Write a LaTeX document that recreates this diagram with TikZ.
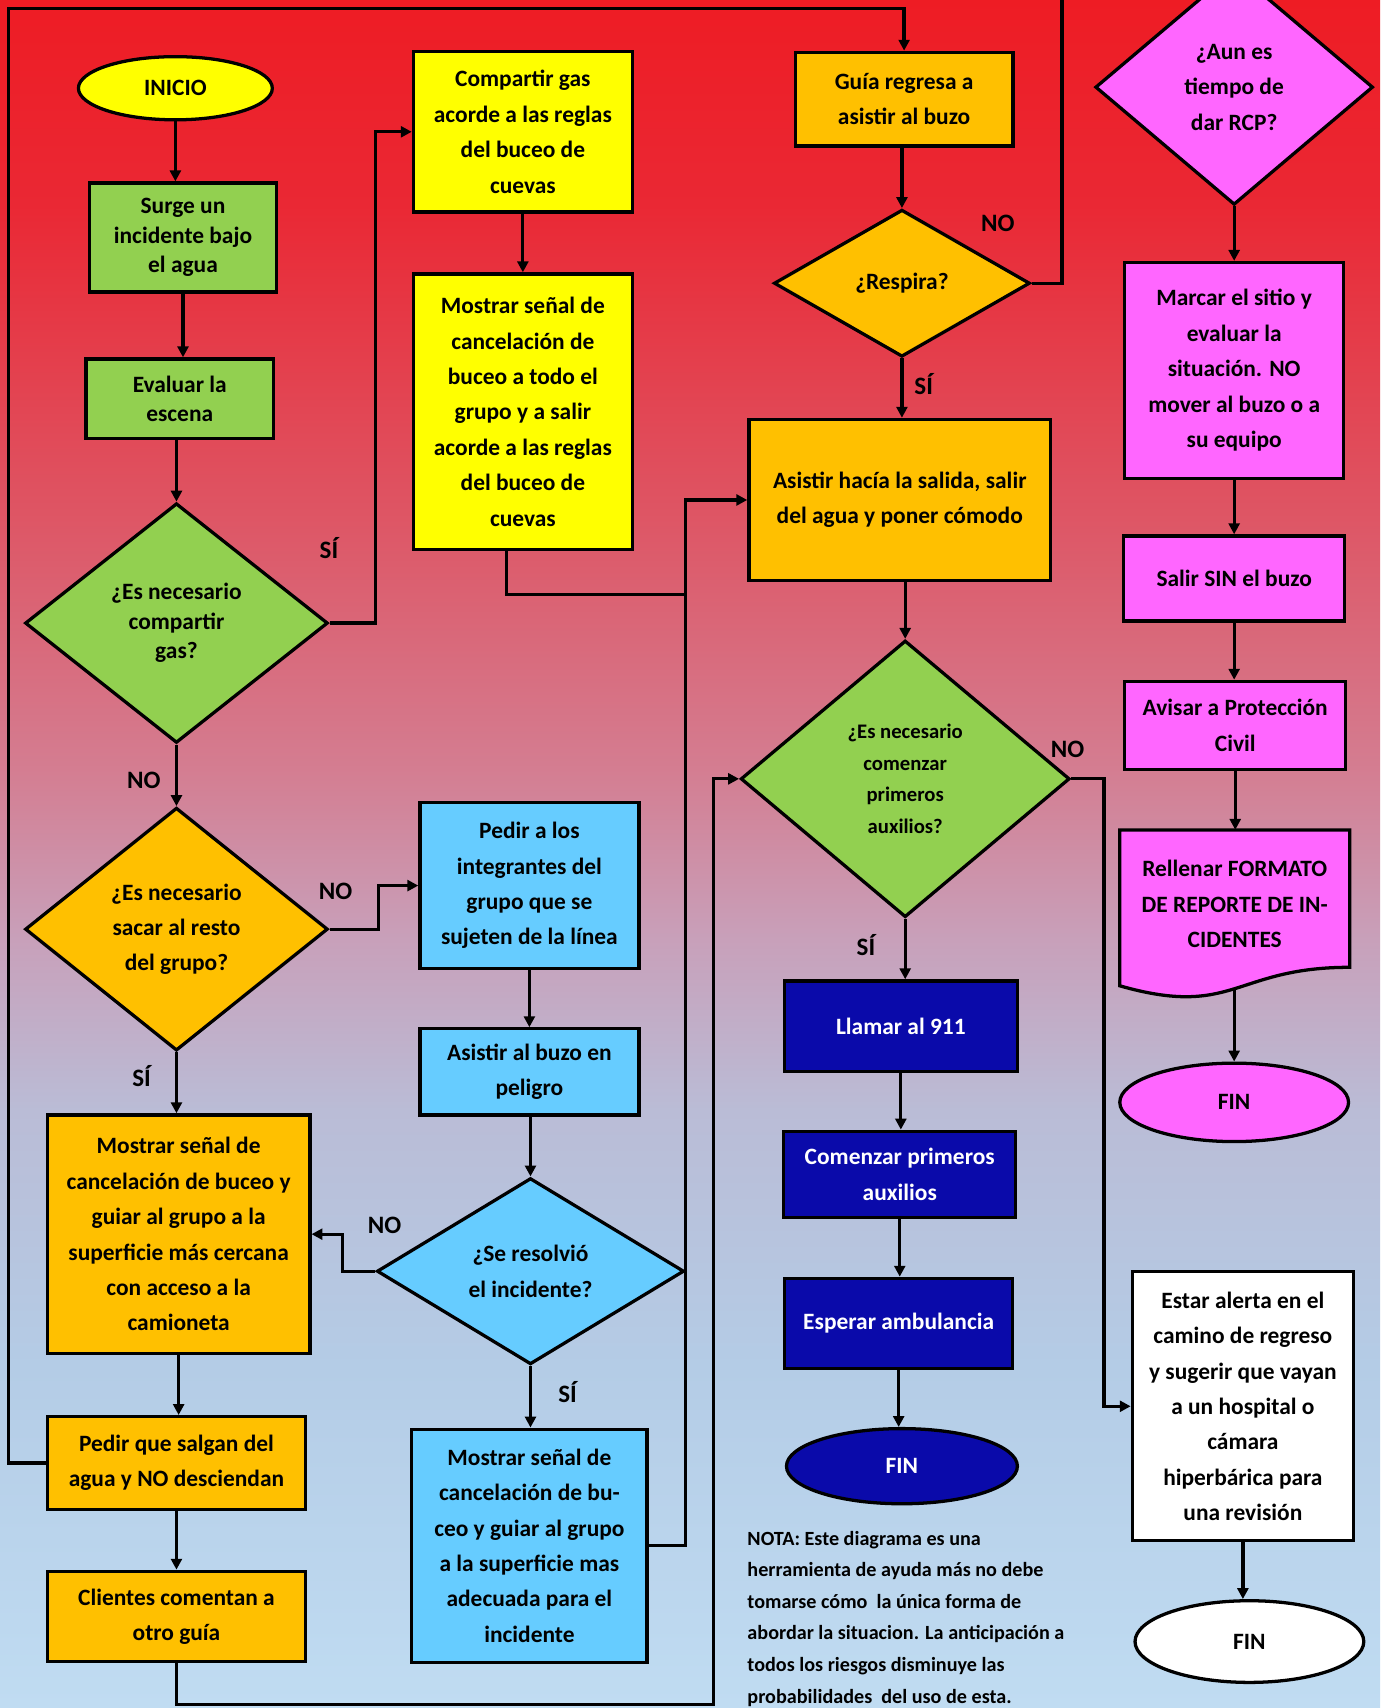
\documentclass[tikz,border=0pt]{standalone}
\usepackage{fontspec}
\setmainfont{Carlito}
\usetikzlibrary{shapes.geometric,arrows.meta,calc}
\definecolor{cyel}{RGB}{255,255,0}
\definecolor{cgrn}{RGB}{146,208,80}
\definecolor{corg}{RGB}{255,192,0}
\definecolor{clbl}{RGB}{102,204,255}
\definecolor{cdbl}{RGB}{10,10,170}
\definecolor{cpnk}{RGB}{255,102,255}
\definecolor{bg0}{RGB}{238,28,36}
\definecolor{bg1}{RGB}{234,40,52}
\definecolor{bg2}{RGB}{222,85,100}
\definecolor{bg3}{RGB}{212,125,145}
\definecolor{bg4}{RGB}{200,160,186}
\definecolor{bg5}{RGB}{186,188,214}
\definecolor{bg6}{RGB}{180,204,230}
\definecolor{bg7}{RGB}{192,220,242}
\pgfdeclareverticalshading{bgshade}{100bp}{color(0bp)=(bg7); color(25bp)=(bg7); color(35bp)=(bg6); color(42.5bp)=(bg5); color(47.5bp)=(bg4); color(52.5bp)=(bg3); color(60bp)=(bg2); color(69bp)=(bg1); color(75bp)=(bg0); color(100bp)=(bg0)}
\newcommand\myfA{\fontsize{21.5}{32.5}\selectfont\bfseries}
\newcommand\myfG{\fontsize{21.5}{27}\selectfont\bfseries}
\newcommand\myfC{\fontsize{19}{29}\selectfont\bfseries}
\newcommand\myfL{\fontsize{23}{26}\selectfont\bfseries}
\newcommand\myfN{\fontsize{18.5}{29}\selectfont\bfseries}
\begin{document}
\begin{tikzpicture}[x=1pt,y=-1pt,
  base/.style={draw=black,line width=3pt,inner sep=0pt,align=center,font=\myfA,text=black},
  box/.style={base,rectangle},
  dia/.style={base,diamond},
  term/.style={base,ellipse},
  wh/.style 2 args={minimum width=#1pt,minimum height=#2pt},
  conn/.style={line width=3pt,-{Triangle[length=10pt,width=10pt]}},
  wire/.style={line width=3pt},
  lbl/.style={font=\myfL,inner sep=0pt,text=black}]
\path[use as bounding box] (0,0) rectangle (1267,1568);
\clip (0,0) rectangle (1267,1568);
\shade[shading=bgshade] (0,0) rectangle (1267,1568);
% helper coordinates
\coordinate (tl) at (8,8);
\coordinate (bl) at (655,1565);
\coordinate (tr) at (975,-10);
\coordinate (bus1) at (628,546);
% left column
\node[term,fill=cyel,wh={178}{58}] (inicio) at (161,81) {INICIO};
\node[box,fill=cgrn,wh={172}{100},font=\myfG] (surge) at (168,218) {Surge un\\incidente bajo\\el agua};
\node[box,fill=cgrn,wh={172}{73},font=\myfG] (evalua) at (165,366) {Evaluar la\\escena};
\node[dia,fill=cgrn,wh={278}{220},font=\myfG] (dgas) at (162,572) {¿Es necesario\\compartir\\gas?};
\node[dia,fill=corg,wh={278}{223}] (dsacar) at (162,853) {¿Es necesario\\sacar al resto\\del grupo?};
\node[box,fill=corg,wh={241}{219}] (morg) at (164,1133) {Mostrar señal de\\cancelación de buceo y\\guiar al grupo a la\\superficie más cercana\\con acceso a la\\camioneta};
\node[box,fill=corg,wh={237}{85}] (psalg) at (162,1343) {Pedir que salgan del\\agua y NO desciendan};
\node[box,fill=corg,wh={237}{83}] (clien) at (162,1484) {Clientes comentan a\\otro guía};
% second column
\node[box,fill=cyel,wh={201}{147}] (comp) at (480,121) {Compartir gas\\acorde a las reglas\\del buceo de\\cuevas};
\node[box,fill=cyel,wh={201}{253}] (mcueva) at (480,378) {Mostrar señal de\\cancelación de\\buceo a todo el\\grupo y a salir\\acorde a las reglas\\del buceo de\\cuevas};
\node[box,fill=clbl,wh={201}{152}] (pedir) at (486,813) {Pedir a los\\integrantes del\\grupo que se\\sujeten de la línea};
\node[box,fill=clbl,wh={201}{79}] (asis) at (486,984) {Asistir al buzo en\\peligro};
\node[dia,fill=clbl,wh={282}{171}] (dres) at (487,1167) {¿Se resolvió\\el incidente?};
\node[box,fill=clbl,wh={216}{214}] (mblue) at (486,1419) {Mostrar señal de\\cancelación de bu-\\ceo y guiar al grupo\\a la superficie mas\\adecuada para el\\incidente};
% third column
\node[box,fill=corg,wh={200}{86}] (guia) at (830,91) {Guía regresa a\\asistir al buzo};
\node[dia,fill=corg,wh={235}{135}] (dresp) at (828,260) {¿Respira?};
\node[box,fill=corg,wh={277}{148}] (asal) at (826,459) {Asistir hacía la salida, salir\\del agua y poner cómodo};
\node[dia,fill=cgrn,wh={302}{254},font=\myfC] (daux) at (831,715) {¿Es necesario\\comenzar\\primeros\\auxilios?};
\node[box,fill=cdbl,text=white,wh={214}{83}] (llam) at (827,942) {Llamar al 911};
\node[box,fill=cdbl,text=white,wh={213}{79}] (comz) at (826,1078) {Comenzar primeros\\auxilios};
\node[box,fill=cdbl,text=white,wh={209}{83}] (esp) at (825,1215) {Esperar ambulancia};
\node[term,fill=cdbl,text=white,wh={212}{69}] (fin1) at (828,1346) {FIN};
\node[anchor=west,inner sep=0pt,align=left,font=\myfN,text=black] (nota) at (686,1486) {NOTA: Este diagrama es una\\herramienta de ayuda más no debe\\tomarse cómo\ \ la única forma de\\abordar la situacion. La anticipación a\\todos los riesgos disminuye las\\probabilidades\ \ del uso de esta.};
% fourth column
\node[dia,fill=cpnk,wh={255}{216}] (drcp) at (1133,80) {¿Aun es\\tiempo de\\dar RCP?};
\node[box,fill=cpnk,wh={201}{198}] (marc) at (1133,340) {Marcar el sitio y\\evaluar la\\situación. NO\\mover al buzo o a\\su equipo};
\node[box,fill=cpnk,wh={203}{78}] (salir) at (1133,531) {Salir SIN el buzo};
\node[box,fill=cpnk,wh={203}{81}] (avis) at (1134,666) {Avisar a Protección\\Civil};
\draw[line width=3pt,fill=cpnk] (1028,762) -- (1239,762) -- (1239,888) .. controls (1133,888) and (1133,935) .. (1028,905) -- cycle;
\node[inner sep=0pt,align=center,font=\myfA,text=black,wh={211}{136}] (rell) at (1133.5,830) {Rellenar FORMATO\\DE REPORTE DE IN-\\CIDENTES};
\coordinate (rellb) at (1133,908);
\node[term,fill=cpnk,wh={210}{72}] (finp) at (1133,1012) {FIN};
\node[box,fill=white,wh={203}{247}] (estar) at (1141,1291) {Estar alerta en el\\camino de regreso\\y sugerir que vayan\\a un hospital o\\cámara\\hiperbárica para\\una revisión};
\node[term,fill=white,wh={210}{75}] (finw) at (1147,1507) {FIN};
% connectors
\draw[conn] (inicio.south) -- (inicio.south |- surge.north);
\draw[conn] (surge.south) -- (surge.south |- evalua.north);
\draw[conn] (dgas.north |- evalua.south) -- (dgas.north);
\draw[conn] (dgas.east) -- ++(42,0) |- (comp.west);
\draw[conn] (comp.south) -- (mcueva.north);
\draw[wire] ([xshift=-15pt]mcueva.south) |- (bus1);
\draw[conn] (dgas.south) -- (dsacar.north);
\draw[conn] (dsacar.east) -- ++(45,0) |- (pedir.west);
\draw[conn] (pedir.south) -- (asis.north);
\draw[conn] (dres.north |- asis.south) -- (dres.north);
\draw[conn] (dres.west) -- ++(-30,0) |- (morg.east);
\draw[conn] (dres.south) -- (dres.south |- mblue.north);
\draw[conn] (mblue.east) -- ++(34,0) |- (asal.west);
\draw[conn] (dsacar.south) -- (dsacar.south |- morg.north);
\draw[conn] (morg.south) -- (morg.south |- psalg.north);
\draw[conn] (psalg.south) -- (psalg.south |- clien.north);
\draw[conn] (psalg.west) -| (tl) -| (guia.north);
\draw[conn] (clien.south) |- (bl) |- (daux.west);
\draw[conn] (dresp.north |- guia.south) -- (dresp.north);
\draw[wire] (dresp.east) -| (tr);
\draw[conn] (dresp.south) -- (dresp.south |- asal.north);
\draw[conn] (daux.north |- asal.south) -- (daux.north);
\draw[conn] (daux.east) -- ++(30,0) |- (estar.west);
\draw[conn] (daux.south) -- (daux.south |- llam.north);
\draw[conn] (llam.south) -- (llam.south |- comz.north);
\draw[conn] (comz.south) -- (comz.south |- esp.north);
\draw[conn] (esp.south) -- (esp.south |- fin1.north);
\draw[conn] (drcp.south) -- (drcp.south |- marc.north);
\draw[conn] (marc.south) -- (marc.south |- salir.north);
\draw[conn] (salir.south) -- (salir.south |- avis.north);
\draw[conn] (avis.south) -- (avis.south |- rell.north);
\draw[conn] (rellb) -- (rellb |- finp.north);
\draw[conn] (estar.south) -- (estar.south |- finw.north);
% labels
\node[lbl] (l1) at (302,503) {SÍ};
\node[lbl] (l2) at (132,716) {NO};
\node[lbl] (l3) at (308,818) {NO};
\node[lbl] (l4) at (130,988) {SÍ};
\node[lbl] (l5) at (353,1125) {NO};
\node[lbl] (l6) at (521,1278) {SÍ};
\node[lbl] (l7) at (916,205) {NO};
\node[lbl] (l8) at (848,353) {SÍ};
\node[lbl] (l9) at (980,688) {NO};
\node[lbl] (l10) at (795,868) {SÍ};
\end{tikzpicture}
\end{document}
